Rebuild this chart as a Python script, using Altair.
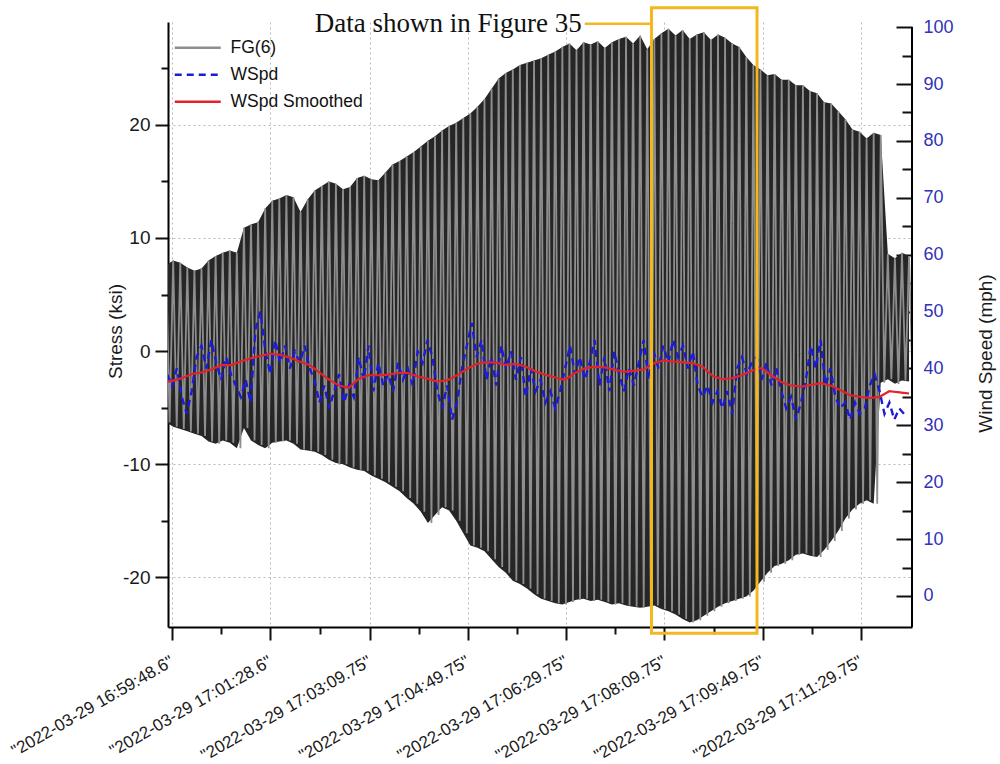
import json
import altair as alt
import pandas as pd

# ---------------- data ----------------
# time axis: seconds after 2022-03-29 16:59:48.6
tick_values = [0, 100, 201.15, 301.15, 401.15, 501.15, 601.15, 701.15]
tick_labels = ['"2022-03-29 16:59:48.6"', '"2022-03-29 17:01:28.6"', '"2022-03-29 17:03:09.75"',
               '"2022-03-29 17:04:49.75"', '"2022-03-29 17:06:29.75"', '"2022-03-29 17:08:09.75"',
               '"2022-03-29 17:09:49.75"', '"2022-03-29 17:11:29.75"']
minor_tick_values = [50, 150.6, 251.15, 351.15, 451.15, 551.15, 651.15]

# FG(6) stress: peak / trough of each oscillation cycle (ksi)
fg_t0 = -6.0
fg_period = 7.2
fg_upper = [7.6, 8.0, 7.8, 7.4, 7.1, 7.3, 8.0, 8.4, 8.7, 8.9,
            8.7, 10.9, 11.2, 11.4, 12.6, 13.3, 13.5, 13.8, 13.6, 12.3,
            13.4, 14.2, 14.6, 15.0, 14.8, 14.3, 14.5, 15.3, 15.5, 15.2,
            15.1, 15.8, 16.5, 16.8, 17.2, 17.6, 18.1, 18.6, 19.0, 19.5,
            19.9, 20.2, 20.6, 21.0, 21.6, 22.3, 23.2, 24.1, 24.6, 24.9,
            25.3, 25.5, 25.7, 25.9, 26.2, 26.5, 26.9, 27.2, 26.6, 27.3,
            27.1, 27.4, 26.8, 27.3, 27.6, 27.8, 27.2, 27.9, 26.7, 27.6,
            28.1, 28.5, 27.9, 28.4, 27.6, 28.0, 28.2, 27.5, 28.0, 27.7,
            27.2, 26.9, 26.0, 25.3, 24.9, 24.4, 24.5, 24.0, 24.0, 23.5,
            23.5, 23.0, 22.8, 22.0, 21.9, 21.2, 20.5, 19.6, 19.4, 18.8,
            19.3, 19.1, 8.6, 8.2, 8.7, 8.4]
fg_lower = [-6.3, -6.7, -6.9, -7.1, -7.3, -7.5, -8.0, -8.2, -7.9, -8.1,
            -8.6, -6.8, -7.9, -8.3, -8.6, -8.1, -8.0, -7.9, -8.2, -8.7,
            -8.8, -8.9, -9.2, -9.6, -9.9, -10.0, -10.3, -10.5, -10.6, -11.0,
            -11.3, -11.6, -12.0, -12.4, -13.0, -13.5, -14.2, -15.2, -14.5, -13.8,
            -14.1, -15.0, -16.1, -17.2, -17.4, -17.7, -18.4, -19.1, -19.6, -20.3,
            -20.6, -21.0, -21.5, -21.9, -22.1, -22.3, -22.4, -22.2, -22.0, -21.9,
            -22.1, -22.0, -22.2, -22.4, -22.3, -22.5, -22.6, -22.7, -22.6, -22.5,
            -22.8, -23.0, -23.3, -23.7, -24.0, -23.8, -23.4, -23.0, -22.6, -22.3,
            -22.1, -21.9, -21.7, -21.2, -20.4, -19.6, -19.0, -18.8, -18.5, -18.0,
            -17.9, -18.1, -18.2, -17.6, -16.8, -15.9, -14.8, -14.0, -13.5, -13.2,
            -13.5, -2.8, -2.5, -2.9, -2.6, -2.7]

# WSpd (mph), one reading every 5 s
wspd_t0 = -5.0
wspd_dt = 5.0
wspd = [39, 37, 40, 35, 32, 36, 42, 44, 40, 45,
        41, 38, 42, 39, 37, 35, 38, 34, 47, 50,
        43, 39, 45, 41, 44, 40, 43, 41, 44, 40,
        38, 34, 37, 33, 36, 39, 34, 37, 35, 42,
        38, 44, 36, 41, 37, 39, 36, 41, 38, 40,
        37, 43, 41, 45, 42, 36, 33, 37, 31, 34,
        40, 44, 48, 42, 45, 38, 42, 37, 44, 40,
        43, 38, 42, 35, 40, 36, 38, 34, 36, 33,
        36, 40, 44, 39, 42, 38, 41, 45, 37, 42,
        36, 43, 39, 36, 40, 37, 41, 45, 38, 43,
        40, 44, 41, 45, 42, 44, 40, 43, 37, 35,
        37, 34, 36, 33, 36, 32, 40, 42, 39, 41,
        42, 38, 41, 37, 40, 36, 33, 35, 31, 34,
        38, 44, 40, 45, 37, 40, 35, 33, 34, 31,
        34, 32, 33, 37, 39, 36, 32, 34, 31, 33, 32]

# WSpd Smoothed (mph), every 10 s
smooth_t0 = -10.0
smooth_dt = 10.0
wspd_smoothed = [37.5,
                 37.8, 38.3, 39.0, 39.3, 39.8, 40.6, 40.6, 41.2, 41.8, 42.2,
                 42.6, 42.4, 41.9, 41.2, 40.6, 39.3, 38.0, 37.0, 36.6, 38.2,
                 38.8, 38.8, 38.9, 39.2, 39.2, 38.6, 38.2, 37.7, 37.9, 38.8,
                 39.9, 40.8, 41.1, 41.0, 40.6, 40.8, 40.3, 39.5, 38.9, 38.4,
                 38.0, 39.2, 40.0, 40.3, 40.2, 39.8, 39.4, 39.6, 39.8, 40.9,
                 41.4, 41.2, 41.1, 40.9, 40.3, 38.7, 38.1, 38.3, 38.8, 39.6,
                 40.1, 38.8, 37.6, 37.0, 36.8, 37.1, 37.4, 37.0, 36.2, 35.3,
                 35.0, 34.8, 35.0, 36.0, 35.8, 35.6]

series_names = ["FG(6)", "WSpd", "WSpd Smoothed"]
series_colors = ["#8e8e8e", "#1c1cd6", "#e3222a"]
series_dashes = [[1, 0], [7, 5], [1, 0]]

# annotation: box marking the data of Figure 35
note_text = "Data shown in Figure 35"
box_t = [487.9, 595.3]
box_stress = [30.35, -24.96]
note_pos = {"t": 417.0, "stress": 28.2}
leader_t = [420.0, 487.9]
leader_stress = 28.95

# ---------------- layout ----------------
W, H = 744, 605
FONT = "Liberation Sans"
x_domain = [-4.07, 753.0]
left_domain = [-24.4, 29.1]
right_domain = [-5.45, 100.9]
GRID = "#b8b8b8"
CLEAR = "rgba(255,255,255,0)"

# ---------------- tables ----------------
t_fg = [fg_t0 + i * fg_period for i in range(len(fg_upper))]
area_df = pd.DataFrame({"t": t_fg, "upper": fg_upper, "lower": fg_lower})
zig_rows = []
for i, (u, l) in enumerate(zip(fg_upper, fg_lower)):
    zig_rows.append({"t": t_fg[i], "v": u, "ord": 2 * i, "series": "FG(6)"})
    zig_rows.append({"t": t_fg[i] + fg_period / 2, "v": l, "ord": 2 * i + 1, "series": "FG(6)"})
zig_df = pd.DataFrame(zig_rows)
wspd_df = pd.DataFrame({"t": [wspd_t0 + i * wspd_dt for i in range(len(wspd))], "v": wspd, "series": "WSpd"})
smooth_df = pd.DataFrame({"t": [smooth_t0 + i * smooth_dt for i in range(len(wspd_smoothed))],
                          "v": wspd_smoothed, "series": "WSpd Smoothed"})
box_df = pd.DataFrame({"t1": [box_t[0]], "t2": [box_t[1]], "s1": [box_stress[0]], "s2": [box_stress[1]]})
note_df = pd.DataFrame({"t": [note_pos["t"]], "s": [note_pos["stress"]], "label": [note_text]})
leader_df = pd.DataFrame({"t1": [leader_t[0]], "t2": [leader_t[1]], "s": [leader_stress]})

# ---------------- axes ----------------
minor_x_test = f"indexof({json.dumps(minor_tick_values)}, datum.value) >= 0"
label_expr = "".join(f"abs(datum.value - {v}) < 0.01 ? '{lab}' : " for v, lab in zip(tick_values, tick_labels)) + "''"
x_axis = alt.Axis(
    values=sorted(tick_values + minor_tick_values), labelExpr=label_expr, title=None,
    labelAngle=330, labelAlign="right", labelBaseline="middle", labelPadding=20, labelLimit=0,
    labelOverlap=False, labelFlush=False, labelFont=FONT, labelFontSize=17, labelColor="#1a1a1a",
    tickSize=13, tickWidth=2, tickColor="#111111",
    tickDash={"condition": {"test": minor_x_test, "value": [7, 40]}, "value": [1, 0]},
    domainColor="#000000", domainWidth=2,
    grid=True, gridWidth=1,
    gridDash={"condition": {"test": minor_x_test, "value": [0, 2000]}, "value": [2, 3]},
    gridColor={"condition": {"test": minor_x_test, "value": CLEAR}, "value": GRID},
    gridOpacity={"condition": {"test": minor_x_test, "value": 0}, "value": 1},
)
x_scale = alt.Scale(domain=x_domain, nice=False, zero=False)

minor_y_test = "datum.value % 10 != 0"
left_axis = alt.Axis(
    orient="left", values=list(range(-20, 26, 5)), title="Stress (ksi)",
    labelExpr="datum.value % 10 == 0 ? '' + datum.value : ''",
    labelFont=FONT, labelFontSize=19, labelColor="#1a1a1a", labelPadding=5,
    tickSize=13, tickWidth=2, tickColor="#111111",
    tickDash={"condition": {"test": minor_y_test, "value": [7, 40]}, "value": [1, 0]},
    domainColor="#000000", domainWidth=2,
    grid=True, gridWidth=1,
    gridDash={"condition": {"test": minor_y_test, "value": [0, 2000]}, "value": [2, 3]},
    gridColor={"condition": {"test": minor_y_test, "value": CLEAR}, "value": GRID},
    gridOpacity={"condition": {"test": minor_y_test, "value": 0}, "value": 1},
    titleFont=FONT, titleFontSize=19, titleFontWeight="normal", titleColor="#1a1a1a",
    titleAngle=270, titleX=-53, titleY=309, titleAlign="center", titleBaseline="middle",
)
right_axis = alt.Axis(
    orient="right", offset=-16, domain=False, values=list(range(0, 101, 5)), title="Wind Speed (mph)",
    labelExpr="datum.value % 10 == 0 ? '' + datum.value : ''",
    labelFont=FONT, labelFontSize=18, labelColor="#3030b8", labelPadding=11,
    tickSize=16, tickWidth=2, tickColor="#111111",
    tickDash={"condition": {"test": minor_y_test, "value": [0, 6, 10]}, "value": [1, 0]},
    grid=False,
    titleFont=FONT, titleFontSize=19, titleFontWeight="normal", titleColor="#1a1a1a",
    titleAngle=270, titleX=89, titleY=331, titleAlign="center", titleBaseline="middle",
)

legend = alt.Legend(
    orient="none", legendX=-2, legendY=17, title=None, padding=0,
    symbolType="M-4.6,0H4.6", symbolSize=100, symbolStrokeWidth=2.5, symbolOffset=23,
    labelOffset=24, labelFont=FONT, labelFontSize=17.5, labelColor="#111111", rowPadding=8,
)
color_enc = alt.Color("series:N", scale=alt.Scale(domain=series_names, range=series_colors), legend=legend)
dash_enc = alt.StrokeDash("series:N", scale=alt.Scale(domain=series_names, range=series_dashes), legend=legend)

left_scale = alt.Scale(domain=left_domain, nice=False, zero=False)
right_scale = alt.Scale(domain=right_domain, nice=False, zero=False)

# ---------------- layers ----------------
fg_area = alt.Chart(area_df).mark_area(color="#262626", clip=True).encode(
    x=alt.X("t:Q", scale=x_scale, axis=x_axis),
    y=alt.Y("upper:Q", scale=left_scale, axis=left_axis),
    y2="lower:Q",
)
fg_zig = alt.Chart(zig_df).mark_line(strokeWidth=1.8, clip=True).encode(
    x=alt.X("t:Q", scale=x_scale, axis=x_axis),
    y=alt.Y("v:Q", scale=left_scale, axis=left_axis),
    color=color_enc, strokeDash=dash_enc, order="ord:Q",
)
left_group = alt.layer(fg_area, fg_zig)

wspd_line = alt.Chart(wspd_df).mark_line(strokeWidth=2.4, clip=True).encode(
    x=alt.X("t:Q", scale=x_scale, axis=x_axis),
    y=alt.Y("v:Q", scale=right_scale, axis=right_axis),
    color=color_enc, strokeDash=dash_enc,
)
smooth_line = alt.Chart(smooth_df).mark_line(strokeWidth=2.2, clip=True).encode(
    x=alt.X("t:Q", scale=x_scale, axis=x_axis),
    y=alt.Y("v:Q", scale=right_scale, axis=right_axis),
    color=color_enc, strokeDash=dash_enc,
)
right_edge = alt.Chart(smooth_df.head(1)).mark_rule(color="#000000", strokeWidth=2).encode(
    x=alt.value(W), y=alt.value(5), y2=alt.value(H),
)
right_group = alt.layer(wspd_line, smooth_line, right_edge)

ann_y = alt.Scale(domain=left_domain, nice=False, zero=False)
box = alt.Chart(box_df).mark_rect(fillOpacity=0, stroke="#f3b81f", strokeWidth=3, clip=False).encode(
    x=alt.X("t1:Q", scale=x_scale, axis=x_axis), x2="t2:Q",
    y=alt.Y("s1:Q", scale=ann_y, axis=None), y2="s2:Q",
)
leader = alt.Chart(leader_df).mark_rule(color="#f3b81f", strokeWidth=2.5, clip=False).encode(
    x=alt.X("t1:Q", scale=x_scale, axis=x_axis), x2="t2:Q",
    y=alt.Y("s:Q", scale=ann_y, axis=None),
)
note = alt.Chart(note_df).mark_text(align="right", baseline="alphabetic", font="Liberation Serif",
                                    fontSize=27, color="#111111", clip=False).encode(
    x=alt.X("t:Q", scale=x_scale, axis=x_axis),
    y=alt.Y("s:Q", scale=ann_y, axis=None),
    text="label:N",
)
ann_group = alt.layer(box, leader, note)

chart = alt.layer(left_group, right_group, ann_group).resolve_scale(y="independent").properties(
    width=W, height=H, autosize="none",
    padding={"left": 168, "top": 22, "right": 88, "bottom": 137},
    background="white",
).configure_view(stroke=None)

chart.save("out.html", embed_options={"renderer": "svg", "actions": False})
